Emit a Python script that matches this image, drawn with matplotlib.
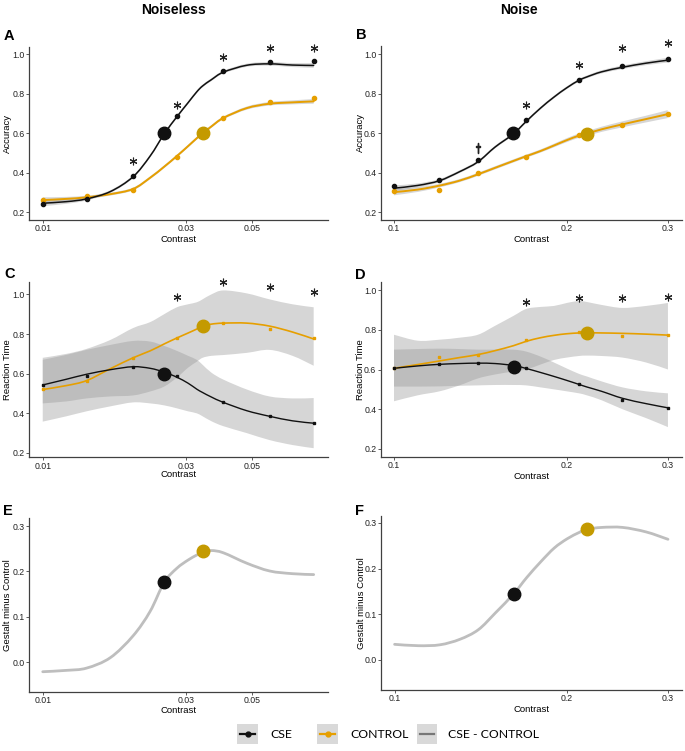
import numpy as np
import matplotlib
matplotlib.use("Agg")
import matplotlib.pyplot as plt
from matplotlib.lines import Line2D
from matplotlib.patches import Rectangle, PathPatch
from matplotlib.path import Path

plt.rcParams['font.family'] = ['Liberation Sans', 'DejaVu Sans']

W, H = 685, 751

# ---------------- data ----------------
# Noiseless contrasts
cont_nl = [0.01, 0.014, 0.02, 0.028, 0.04, 0.057, 0.08]
# Noise contrasts
cont_n = [0.1, 0.12, 0.14, 0.17, 0.21, 0.25, 0.3]

# Panel A (accuracy, noiseless)
acc_cse_nl = [0.244, 0.266, 0.384, 0.689, 0.916, 0.963, 0.966]
acc_ctl_nl = [0.261, 0.284, 0.313, 0.482, 0.679, 0.757, 0.777]
grid_nl = [0.01, 0.012, 0.014, 0.0168, 0.02, 0.0228, 0.0254, 0.028, 0.0305,
           0.0326, 0.0341, 0.0365, 0.04, 0.0479, 0.057, 0.068, 0.08]
fit_acc_cse_nl = [0.246, 0.254, 0.268, 0.305, 0.38, 0.485, 0.597, 0.684, 0.755,
                  0.81, 0.84, 0.872, 0.91, 0.945, 0.952, 0.946, 0.944]
fit_acc_ctl_nl = [0.262, 0.268, 0.276, 0.292, 0.318, 0.375, 0.431, 0.485, 0.535,
                  0.575, 0.60, 0.635, 0.678, 0.728, 0.75, 0.757, 0.762]
ci_acc_cse_nl = [0.015, 0.011, 0.008, 0.007, 0.007, 0.007, 0.007, 0.007, 0.007,
                 0.007, 0.007, 0.007, 0.007, 0.008, 0.009, 0.010, 0.012]
ci_acc_ctl_nl = [0.014, 0.010, 0.008, 0.007, 0.007, 0.007, 0.007, 0.007, 0.007,
                 0.007, 0.007, 0.007, 0.007, 0.008, 0.009, 0.010, 0.012]
thr_acc_nl = {'cse': (0.0254, 0.60), 'ctl': (0.0341, 0.60)}
star_acc_nl_x = [0.02, 0.028, 0.04, 0.057, 0.08]
star_acc_nl_y = [0.46, 0.743, 0.985, 1.03, 1.03]

# Panel B (accuracy, noise)
acc_cse_n = [0.332, 0.365, 0.465, 0.666, 0.872, 0.941, 0.976]
acc_ctl_n = [0.308, 0.315, 0.399, 0.482, 0.592, 0.644, 0.70]
grid_n = [0.1, 0.11, 0.12, 0.13, 0.14, 0.15, 0.1615, 0.17, 0.18, 0.19, 0.2,
          0.21, 0.2167, 0.23, 0.25, 0.275, 0.3]
fit_acc_cse_n = [0.322, 0.336, 0.36, 0.405, 0.455, 0.53, 0.597, 0.66, 0.727,
                 0.783, 0.83, 0.868, 0.885, 0.911, 0.934, 0.955, 0.97]
fit_acc_ctl_n = [0.302, 0.315, 0.335, 0.36, 0.392, 0.425, 0.46, 0.484, 0.51,
                 0.538, 0.565, 0.588, 0.598, 0.62, 0.645, 0.672, 0.697]
ci_acc_cse_n = [0.014, 0.010, 0.008, 0.007, 0.007, 0.007, 0.007, 0.007, 0.007,
                0.007, 0.007, 0.007, 0.007, 0.008, 0.009, 0.010, 0.012]
ci_acc_ctl_n = [0.016, 0.012, 0.009, 0.008, 0.008, 0.008, 0.008, 0.008, 0.008,
                0.009, 0.010, 0.011, 0.012, 0.013, 0.015, 0.017, 0.020]
thr_acc_n = {'cse': (0.1615, 0.60), 'ctl': (0.2167, 0.597)}
star_acc_n_x = [0.17, 0.21, 0.25, 0.3]
star_acc_n_y = [0.743, 0.946, 1.03, 1.056]
dagger_acc_n = (0.14, 0.524)

# Panel C (reaction time, noiseless)
rt_cse_nl = [0.543, 0.588, 0.635, 0.588, 0.455, 0.387, 0.35]
rt_ctl_nl = [0.521, 0.565, 0.68, 0.781, 0.857, 0.827, 0.778]
fit_rt_cse_nl = [0.543, 0.572, 0.597, 0.62, 0.635, 0.627, 0.608, 0.582, 0.552,
                 0.522, 0.505, 0.482, 0.455, 0.413, 0.385, 0.362, 0.35]
fit_rt_ctl_nl = [0.52, 0.54, 0.565, 0.625, 0.68, 0.715, 0.75, 0.78, 0.805,
                 0.825, 0.84, 0.85, 0.855, 0.855, 0.84, 0.81, 0.775]
lo_rt_cse_nl = [0.358, 0.385, 0.41, 0.435, 0.455, 0.45, 0.44, 0.425, 0.41,
                0.40, 0.385, 0.36, 0.335, 0.30, 0.265, 0.24, 0.224]
hi_rt_cse_nl = [0.67, 0.695, 0.72, 0.745, 0.765, 0.762, 0.74, 0.715, 0.69,
                0.67, 0.645, 0.605, 0.57, 0.52, 0.485, 0.475, 0.477]
lo_rt_ctl_nl = [0.45, 0.46, 0.475, 0.485, 0.49, 0.51, 0.535, 0.58, 0.63,
                0.66, 0.68, 0.69, 0.694, 0.705, 0.72, 0.69, 0.64]
hi_rt_ctl_nl = [0.68, 0.70, 0.725, 0.77, 0.83, 0.86, 0.90, 0.935, 0.95,
                0.96, 0.975, 1.0, 1.02, 1.005, 0.975, 0.95, 0.935]
thr_rt_nl = {'cse': (0.0254, 0.60), 'ctl': (0.0341, 0.84)}
star_rt_nl_x = [0.028, 0.04, 0.057, 0.08]
star_rt_nl_y = [0.988, 1.064, 1.039, 1.013]

# Panel D (reaction time, noise)
rt_cse_n = [0.606, 0.628, 0.631, 0.606, 0.529, 0.447, 0.408]
rt_ctl_n = [0.606, 0.661, 0.673, 0.748, 0.79, 0.769, 0.774]
fit_rt_cse_n = [0.606, 0.618, 0.626, 0.63, 0.632, 0.63, 0.62, 0.605, 0.585,
                0.565, 0.545, 0.525, 0.512, 0.49, 0.455, 0.428, 0.407]
fit_rt_ctl_n = [0.606, 0.625, 0.643, 0.66, 0.675, 0.695, 0.72, 0.742, 0.76,
                0.772, 0.78, 0.784, 0.785, 0.784, 0.782, 0.778, 0.773]
lo_rt_cse_n = [0.514, 0.514, 0.515, 0.518, 0.52, 0.522, 0.522, 0.52, 0.51,
               0.50, 0.49, 0.48, 0.47, 0.445, 0.40, 0.355, 0.31]
hi_rt_cse_n = [0.70, 0.703, 0.705, 0.703, 0.70, 0.70, 0.70, 0.69, 0.665,
               0.635, 0.605, 0.578, 0.565, 0.54, 0.51, 0.49, 0.48]
lo_rt_ctl_n = [0.44, 0.47, 0.49, 0.52, 0.555, 0.575, 0.59, 0.60, 0.625,
               0.648, 0.66, 0.668, 0.67, 0.668, 0.66, 0.635, 0.60]
hi_rt_ctl_n = [0.775, 0.745, 0.75, 0.76, 0.775, 0.82, 0.87, 0.905, 0.915,
               0.92, 0.935, 0.945, 0.94, 0.925, 0.91, 0.92, 0.935]
thr_rt_n = {'cse': (0.1615, 0.614), 'ctl': (0.2167, 0.785)}
star_rt_n_x = [0.17, 0.21, 0.25, 0.3]
star_rt_n_y = [0.938, 0.961, 0.958, 0.966]

# Panel E / F (CSE minus control)
diff_nl = [-0.021, -0.018, -0.013, 0.01, 0.058, 0.112, 0.176, 0.207, 0.225,
           0.236, 0.243, 0.246, 0.241, 0.218, 0.201, 0.195, 0.193]
diff_n = [0.034, 0.031, 0.033, 0.045, 0.066, 0.103, 0.145, 0.18, 0.215,
          0.245, 0.265, 0.279, 0.286, 0.29, 0.29, 0.28, 0.264]
thr_diff_nl = {'cse': (0.0254, 0.176), 'ctl': (0.0341, 0.245)}
thr_diff_n = {'cse': (0.1615, 0.145), 'ctl': (0.2167, 0.286)}

# ---------------- style ----------------
BLACK = '#111111'
ORANGE = '#E69F00'
GOLD = '#C49A00'
RIB = '#999999'
DIFF = '#BEBEBE'
SPINE = '#404040'

fig = plt.figure(figsize=(W / 100, H / 100), dpi=100)


def rect(l, t, r, b):
    return [l / W, 1 - b / H, (r - l) / W, (b - t) / H]


def bezier_segments(xs, ys):
    """Smooth cubic Bezier path segments through given (log-x) samples."""
    xs = np.asarray(xs, float)
    ys = np.asarray(ys, float)
    lx = np.log10(xs)
    n = len(xs)
    verts, codes = [], []
    for i in range(n - 1):
        p0 = max(i - 1, 0)
        p3 = min(i + 2, n - 1)
        c1 = (lx[i] + (lx[i + 1] - lx[p0]) / 6, ys[i] + (ys[i + 1] - ys[p0]) / 6)
        c2 = (lx[i + 1] - (lx[p3] - lx[i]) / 6, ys[i + 1] - (ys[p3] - ys[i]) / 6)
        verts += [(10 ** c1[0], c1[1]), (10 ** c2[0], c2[1]), (xs[i + 1], ys[i + 1])]
        codes += [Path.CURVE4] * 3
    return verts, codes


def smooth_line(ax, xs, ys, **kw):
    v, c = bezier_segments(xs, ys)
    path = Path([(xs[0], ys[0])] + v, [Path.MOVETO] + c)
    ax.add_patch(PathPatch(path, fill=False, capstyle='round', **kw))


def smooth_band(ax, xs, lo, hi, **kw):
    vu, cu = bezier_segments(xs, hi)
    vl, cl = bezier_segments(xs[::-1], lo[::-1])
    verts = [(xs[0], hi[0])] + vu + [(xs[-1], lo[-1])] + vl + [(xs[0], hi[0])]
    codes = [Path.MOVETO] + cu + [Path.LINETO] + cl + [Path.CLOSEPOLY]
    ax.add_patch(PathPatch(Path(verts, codes), lw=0, **kw))


def style(ax, xlim, ylim, xticks, xlabels, yticks, ylabel, ylab_x, xlab_y):
    ax.set_xscale('log')
    ax.set_xlim(*xlim)
    ax.set_ylim(*ylim)
    ax.set_xticks(xticks)
    ax.set_xticklabels(xlabels)
    ax.xaxis.set_minor_locator(matplotlib.ticker.NullLocator())
    ax.set_yticks(yticks)
    ax.set_yticklabels(['%.1f' % v for v in yticks])
    for s in ['top', 'right']:
        ax.spines[s].set_visible(False)
    for s in ['left', 'bottom']:
        ax.spines[s].set_color(SPINE)
        ax.spines[s].set_linewidth(0.9)
    ax.tick_params(axis='both', length=2, width=0.6, color=SPINE,
                   labelsize=6.3, pad=1.2, labelcolor='#222222')
    ax.set_ylabel(ylabel, fontsize=6.8, va='center')
    ax.yaxis.set_label_coords(ylab_x, 0.5)
    ax.set_xlabel('Contrast', fontsize=6.8, va='top')
    ax.xaxis.set_label_coords(0.5, xlab_y)


def stars(ax, xs, ys):
    ax.plot(xs, ys, ls='none', marker=(6, 2, 0), ms=5.5, mew=0.8,
            color='#222222', clip_on=False, zorder=6)


def thresholds(ax, thr):
    ax.plot(*thr['cse'], 'o', color=BLACK, ms=9, zorder=7, clip_on=False)
    ax.plot(*thr['ctl'], 'o', color=GOLD, ms=9, zorder=7, clip_on=False)


xl_nl = (0.00902, 0.0895)
xl_n = (0.0948, 0.3174)
xt_nl, xtl_nl = [0.01, 0.03, 0.05], ['0.01', '0.03', '0.05']
xt_n, xtl_n = [0.1, 0.2, 0.3], ['0.1', '0.2', '0.3']
yt_acc = [0.2, 0.4, 0.6, 0.8, 1.0]
yt_diff = [0.0, 0.1, 0.2, 0.3]

# ---- A ----
axA = fig.add_axes(rect(29.3, 46.7, 328.3, 220))
g = np.array(grid_nl)
for fit, ci in [(fit_acc_cse_nl, ci_acc_cse_nl), (fit_acc_ctl_nl, ci_acc_ctl_nl)]:
    smooth_band(axA, g, np.array(fit) - ci, np.array(fit) + ci, color=RIB, alpha=0.4)
smooth_line(axA, g, fit_acc_ctl_nl, color=ORANGE, lw=1.4)
smooth_line(axA, g, fit_acc_cse_nl, color=BLACK, lw=1.1)
axA.plot(cont_nl, acc_ctl_nl, 'o', color=ORANGE, ms=3)
axA.plot(cont_nl, acc_cse_nl, 'o', color=BLACK, ms=3)
thresholds(axA, thr_acc_nl)
stars(axA, star_acc_nl_x, star_acc_nl_y)
style(axA, xl_nl, (0.161, 1.039), xt_nl, xtl_nl, yt_acc, 'Accuracy', -0.074, -0.085)

# ---- B ----
axB = fig.add_axes(rect(380.7, 46, 681.7, 220))
g = np.array(grid_n)
for fit, ci in [(fit_acc_cse_n, ci_acc_cse_n), (fit_acc_ctl_n, ci_acc_ctl_n)]:
    smooth_band(axB, g, np.array(fit) - ci, np.array(fit) + ci, color=RIB, alpha=0.4)
smooth_line(axB, g, fit_acc_ctl_n, color=ORANGE, lw=1.4)
smooth_line(axB, g, fit_acc_cse_n, color=BLACK, lw=1.1)
axB.plot(cont_n, acc_ctl_n, 'o', color=ORANGE, ms=3)
axB.plot(cont_n, acc_cse_n, 'o', color=BLACK, ms=3)
thresholds(axB, thr_acc_n)
stars(axB, star_acc_n_x, star_acc_n_y)
axB.plot(*dagger_acc_n, ls='none', marker=r'$\dagger$', ms=6.5, color='#222222', zorder=6)
style(axB, xl_n, (0.161, 1.042), xt_n, xtl_n, yt_acc, 'Accuracy', -0.066, -0.085)

# ---- C ----
axC = fig.add_axes(rect(29.3, 281.7, 328.3, 457.3))
g = np.array(grid_nl)
smooth_band(axC, g, np.array(lo_rt_cse_nl), np.array(hi_rt_cse_nl), color=RIB, alpha=0.4)
smooth_band(axC, g, np.array(lo_rt_ctl_nl), np.array(hi_rt_ctl_nl), color=RIB, alpha=0.4)
smooth_line(axC, g, fit_rt_ctl_nl, color=ORANGE, lw=1.2)
smooth_line(axC, g, fit_rt_cse_nl, color=BLACK, lw=1.0)
axC.plot(cont_nl, rt_ctl_nl, 's', color=ORANGE, ms=2)
axC.plot(cont_nl, rt_cse_nl, 's', color=BLACK, ms=2)
thresholds(axC, thr_rt_nl)
stars(axC, star_rt_nl_x, star_rt_nl_y)
style(axC, xl_nl, (0.178, 1.064), xt_nl, xtl_nl, yt_acc, 'Reaction Time', -0.074, -0.075)

# ---- D ----
axD = fig.add_axes(rect(380.7, 282.3, 682, 456.7))
g = np.array(grid_n)
smooth_band(axD, g, np.array(lo_rt_cse_n), np.array(hi_rt_cse_n), color=RIB, alpha=0.4)
smooth_band(axD, g, np.array(lo_rt_ctl_n), np.array(hi_rt_ctl_n), color=RIB, alpha=0.4)
smooth_line(axD, g, fit_rt_ctl_n, color=ORANGE, lw=1.2)
smooth_line(axD, g, fit_rt_cse_n, color=BLACK, lw=1.0)
axD.plot(cont_n, rt_ctl_n, 's', color=ORANGE, ms=2)
axD.plot(cont_n, rt_cse_n, 's', color=BLACK, ms=2)
thresholds(axD, thr_rt_n)
stars(axD, star_rt_n_x, star_rt_n_y)
style(axD, xl_n, (0.161, 1.039), xt_n, xtl_n, yt_acc, 'Reaction Time', -0.066, -0.085)

# ---- E ----
axE = fig.add_axes(rect(29.3, 518.3, 328.3, 691.7))
smooth_line(axE, np.array(grid_nl), diff_nl, color=DIFF, lw=2)
thresholds(axE, thr_diff_nl)
style(axE, xl_nl, (-0.065, 0.317), xt_nl, xtl_nl, yt_diff, 'Gestalt minus Control', -0.074, -0.085)

# ---- F ----
axF = fig.add_axes(rect(381.3, 516, 682, 690))
smooth_line(axF, np.array(grid_n), diff_n, color=DIFF, lw=2)
thresholds(axF, thr_diff_n)
style(axF, xl_n, (-0.066, 0.315), xt_n, xtl_n, yt_diff, 'Gestalt minus Control', -0.066, -0.085)

# ---- titles & panel letters ----
fig.text(174 / W, 1 - 10 / H, 'Noiseless', ha='center', va='center', fontsize=10, fontweight='bold')
fig.text(519 / W, 1 - 10 / H, 'Noise', ha='center', va='center', fontsize=10, fontweight='bold')
for lab, (px, py) in zip('ABCDEF', [(9, 36), (361, 35), (10, 274), (360, 275), (8, 511), (360, 511)]):
    fig.text(px / W, 1 - py / H, lab, ha='center', va='center', fontsize=10.5, fontweight='bold')

# ---- legend ----
leg_y = 734
entries = [(237, 258, BLACK, True, 'CSE', 270),
           (317, 338, ORANGE, True, 'CONTROL', 350),
           (417, 437, '#777777', False, 'CSE - CONTROL', 448)]
for x0, x1, col, dot, txt, tx in entries:
    fig.patches.append(Rectangle((x0 / W, 1 - 744 / H), (x1 - x0) / W, 20 / H,
                                 transform=fig.transFigure, facecolor='#D9D9D9',
                                 edgecolor='none'))
    fig.lines.append(Line2D([(x0 + 3) / W, (x1 - 3) / W], [1 - leg_y / H] * 2,
                            transform=fig.transFigure, color=col, lw=1.6))
    if dot:
        fig.lines.append(Line2D([(x0 + x1) / 2 / W], [1 - leg_y / H], marker='o', ms=3.5,
                                transform=fig.transFigure, color=col))
    fig.text(tx / W, 1 - leg_y / H, txt, ha='left', va='center', fontsize=8.8,
             family=['Lato', 'DejaVu Sans'])

fig.savefig('out.png', dpi=100)
